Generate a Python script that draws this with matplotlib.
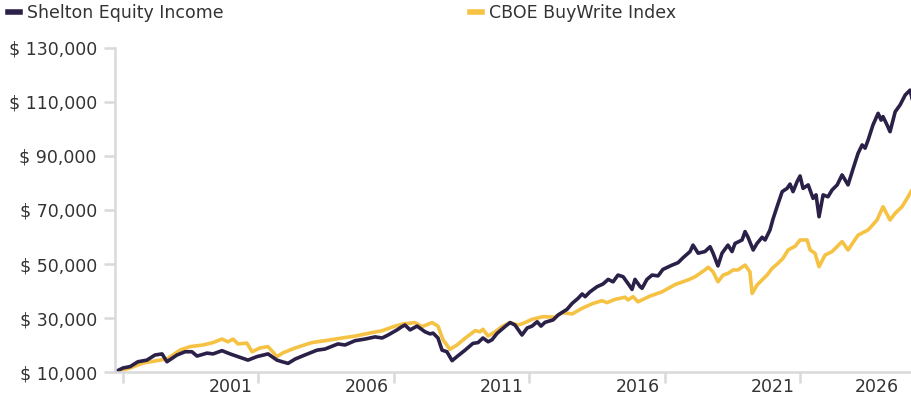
import matplotlib.pyplot as plt
from matplotlib.lines import Line2D
from matplotlib.ticker import FuncFormatter
from matplotlib.transforms import ScaledTranslation

# growth of $10,000 (fractional year, value in $)
shelton_t = [1996.72, 1997.02, 1997.28, 1997.57, 1997.90, 1998.20, 1998.46, 1998.64, 1999.01, 1999.31,
             1999.56, 1999.75, 2000.12, 2000.34, 2000.67, 2000.97, 2001.26, 2001.63, 2001.96, 2002.37,
             2002.70, 2002.89, 2003.11, 2003.37, 2003.73, 2004.18, 2004.47, 2004.95, 2005.21, 2005.58,
             2005.95, 2006.32, 2006.58, 2006.80, 2007.13, 2007.31, 2007.42, 2007.61, 2007.87, 2008.16,
             2008.35, 2008.46, 2008.64, 2008.79, 2008.97, 2009.16, 2009.34, 2009.64, 2009.93, 2010.12,
             2010.30, 2010.49, 2010.63, 2010.82, 2011.11, 2011.30, 2011.48, 2011.74, 2011.93, 2012.11,
             2012.30, 2012.44, 2012.59, 2012.89, 2013.07, 2013.40, 2013.59, 2013.81, 2013.96, 2014.07,
             2014.25, 2014.51, 2014.73, 2014.92, 2015.10, 2015.28, 2015.47, 2015.65, 2015.80, 2015.91,
             2016.10, 2016.17, 2016.35, 2016.54, 2016.76, 2016.94, 2017.28, 2017.50, 2017.68, 2017.94,
             2018.05, 2018.24, 2018.49, 2018.68, 2018.79, 2018.97, 2019.12, 2019.34, 2019.49, 2019.60,
             2019.86, 2019.97, 2020.08, 2020.27, 2020.41, 2020.60, 2020.71, 2020.89, 2021.00, 2021.15,
             2021.34, 2021.52, 2021.63, 2021.74, 2021.89, 2022.00, 2022.11, 2022.30, 2022.48, 2022.59,
             2022.70, 2022.85, 2023.03, 2023.18, 2023.37, 2023.55, 2023.77, 2023.96, 2024.14, 2024.29,
             2024.40, 2024.51, 2024.69, 2024.88, 2024.99, 2025.06, 2025.21, 2025.32, 2025.51, 2025.69,
             2025.88, 2026.06, 2026.13]
shelton_v = [10000, 11500, 12000, 13800, 14400, 16300, 16700, 13800, 16300, 17500,
             17500, 15900, 17000, 16700, 17900, 16700, 15700, 14400, 15700, 16700,
             14400, 13800, 13200, 14800, 16300, 18100, 18500, 20400, 20000, 21600,
             22200, 23000, 22600, 23700, 25600, 26800, 27400, 25600, 27000, 24900,
             24100, 24400, 22600, 18100, 17500, 14200, 15700, 18100, 20600, 20900,
             22600, 21200, 21900, 24300, 26800, 28300, 27400, 23700, 26300, 27000,
             28600, 27000, 28400, 29300, 31100, 33200, 35400, 37300, 38900, 37900,
             39700, 41600, 42600, 44300, 43400, 45900, 45300, 42800, 40600, 44300,
             41600, 41000, 44300, 45900, 45600, 48000, 49600, 50500, 52300, 54600,
             57000, 54000, 54600, 56400, 54000, 49300, 54000, 57000, 54600, 57600,
             58900, 62000, 59900, 55200, 57600, 59900, 58900, 62600, 66600, 71200,
             76800, 78000, 79600, 76800, 80500, 82600, 78000, 79300, 74300, 75600,
             67500, 75600, 74900, 77400, 79300, 83000, 79300, 85400, 91000, 94100,
             92900, 95900, 101500, 105800, 103300, 104600, 101500, 99000, 106400, 108900,
             112600, 114400, 111400]

cboe_t = [1996.72, 1997.28, 1997.76, 1998.38, 1998.64, 1999.12, 1999.49, 1999.97, 2000.34, 2000.67,
          2000.89, 2001.08, 2001.26, 2001.59, 2001.78, 2002.07, 2002.37, 2002.70, 2002.92, 2003.37,
          2003.99, 2004.47, 2005.10, 2005.58, 2006.21, 2006.58, 2007.06, 2007.35, 2007.79, 2008.05,
          2008.42, 2008.64, 2008.83, 2009.08, 2009.34, 2009.64, 2010.01, 2010.19, 2010.30, 2010.49,
          2010.75, 2011.00, 2011.30, 2011.59, 2011.78, 2012.11, 2012.52, 2012.96, 2013.22, 2013.59,
          2013.96, 2014.36, 2014.69, 2014.88, 2015.17, 2015.54, 2015.65, 2015.84, 2016.02, 2016.46,
          2016.91, 2017.39, 2017.87, 2018.13, 2018.49, 2018.61, 2018.79, 2018.97, 2019.16, 2019.34,
          2019.53, 2019.71, 2019.97, 2020.15, 2020.23, 2020.41, 2020.60, 2020.78, 2020.97, 2021.19,
          2021.37, 2021.56, 2021.82, 2022.00, 2022.26, 2022.37, 2022.55, 2022.70, 2022.92, 2023.18,
          2023.55, 2023.77, 2024.14, 2024.51, 2024.84, 2025.06, 2025.32, 2025.51, 2025.76, 2025.95,
          2026.13]
cboe_v = [10000, 11500, 13300, 14400, 14800, 18100, 19400, 20000, 20900, 22200,
          21200, 22200, 20400, 20700, 17500, 18900, 19400, 15700, 17100, 18900,
          20900, 21600, 22600, 23300, 24600, 25300, 27000, 27800, 28300, 26800,
          28300, 27000, 21900, 18400, 20000, 22500, 25300, 24900, 25800, 23300,
          24900, 26800, 28300, 27400, 28000, 29500, 30500, 30300, 32000, 31500,
          33600, 35400, 36400, 35700, 36900, 37700, 36700, 37900, 36000, 38100,
          39700, 42400, 44100, 45300, 47800, 48800, 47100, 43400, 45900, 46500,
          47800, 47800, 49600, 47100, 39100, 42200, 44100, 45900, 48400, 50300,
          52100, 55200, 56600, 58900, 58900, 55200, 54000, 49000, 53300, 54600,
          58300, 55200, 60700, 62600, 66300, 71200, 66300, 68800, 71200, 74300,
          77400]

label_years = [2001, 2006, 2011, 2016, 2021, 2026]
tick_years = [1997, 2002, 2007, 2012, 2017, 2022]
y_ticks = [10000, 30000, 50000, 70000, 90000, 110000, 130000]

dark = '#2b2148'
gold = '#f5c243'
grey = '#d9d9d9'
txt = '#333333'

plt.rcParams['font.family'] = 'DejaVu Sans'
fig = plt.figure(figsize=(9.12, 4.0), dpi=100)
ax = fig.add_axes([0.126, 0.07, 0.874, 0.81])

ax.plot(cboe_t, cboe_v, color=gold, lw=2.6, solid_joinstyle='round')
ax.plot(shelton_t, shelton_v, color=dark, lw=2.6, solid_joinstyle='round')

ax.set_xlim(1996.72, 2026.13)
ax.set_ylim(10000, 130000)
ax.set_yticks(y_ticks)
ax.yaxis.set_major_formatter(FuncFormatter(lambda v, p: '$ {:,.0f}'.format(v)))

ax.set_xticks(tick_years)
ax.set_xticklabels([])
ax.set_xticks(label_years, minor=True)
ax.set_xticklabels([str(y) for y in label_years], minor=True)
ax.tick_params(axis='x', which='major', length=8, width=1.8, color=grey)
ax.tick_params(axis='x', which='minor', length=0, pad=4, labelsize=12.5, labelcolor=txt)
ax.tick_params(axis='y', length=8, width=1.8, color=grey, labelsize=12.5, labelcolor=txt, pad=5)

# last year label is pushed inside the plot edge, like the reference
last = ax.get_xticklabels(minor=True)[-1]
last.set_horizontalalignment('right')
last.set_transform(last.get_transform() + ScaledTranslation(-7 / 72, 0, fig.dpi_scale_trans))

for s in ['top', 'right']:
    ax.spines[s].set_visible(False)
for s in ['left', 'bottom']:
    ax.spines[s].set_color(grey)
    ax.spines[s].set_linewidth(1.8)

handles = [Line2D([], [], color=dark, lw=4), Line2D([], [], color=gold, lw=4)]
fig.legend(handles, ['Shelton Equity Income', 'CBOE BuyWrite Index'],
           loc='upper left', bbox_to_anchor=(8 / 912, 1 - 4 / 400), ncol=2, frameon=False,
           borderpad=0, borderaxespad=0,
           handlelength=0.7, handletextpad=0.4, columnspacing=14.2,
           fontsize=12.5, labelcolor=txt)

fig.savefig('out.png', dpi=100)
